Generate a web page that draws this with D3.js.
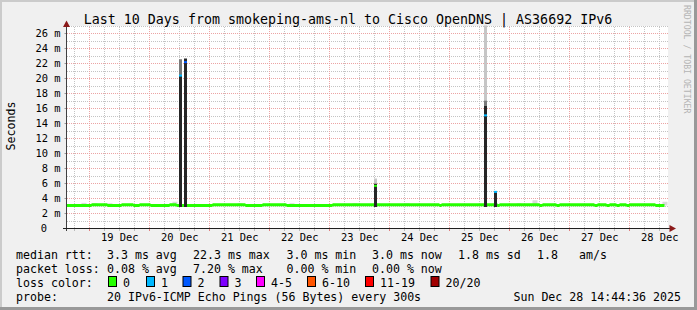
<!DOCTYPE html>
<html>
<head>
<meta charset="utf-8">
<script src="https://cdn.jsdelivr.net/npm/d3@7"></script>
<style>
body { margin: 0; background: #fff; }
svg { display: block; font-family: "DejaVu Sans Mono", monospace; }
.grid line { shape-rendering: crispEdges; }
.grid path { display: none; }
</style>
</head>
<body>
<svg id="myGraph" width="697" height="310"></svg>
<script>
// ---- data ----
var titleText = "Last 10 Days from smokeping-ams-nl to Cisco OpenDNS | AS36692 IPv6";
var endTime = new Date(2025, 11, 28, 14, 44, 36);
var startTime = d3.timeDay.offset(endTime, -10);

var dayLabels = ["19 Dec", "20 Dec", "21 Dec", "22 Dec", "23 Dec", "24 Dec", "25 Dec", "26 Dec", "27 Dec", "28 Dec"];
var yTicks = [0, 2, 4, 6, 8, 10, 12, 14, 16, 18, 20, 22, 24, 26];   // ms
var yTickLabels = ["0", "2 m", "4 m", "6 m", "8 m", "10 m", "12 m", "14 m", "16 m", "18 m", "20 m", "22 m", "24 m", "26 m"];

// median rtt (ms), step changes
var baseTimes = ["2025-12-18 14:44", "2025-12-19 00:56", "2025-12-19 07:20", "2025-12-19 12:56", "2025-12-19 17:44",
  "2025-12-19 20:08", "2025-12-20 00:32", "2025-12-20 08:08", "2025-12-20 10:56", "2025-12-21 01:20",
  "2025-12-21 14:32", "2025-12-21 21:20", "2025-12-22 06:56", "2025-12-23 01:20", "2025-12-24 20:08",
  "2025-12-24 20:56", "2025-12-25 19:20", "2025-12-25 20:08", "2025-12-26 12:08", "2025-12-26 13:20",
  "2025-12-26 18:56", "2025-12-26 20:08", "2025-12-27 10:08", "2025-12-27 11:20", "2025-12-27 14:56",
  "2025-12-27 16:08", "2025-12-27 18:56", "2025-12-27 20:08", "2025-12-27 22:56", "2025-12-28 00:08",
  "2025-12-28 10:32", "2025-12-28 14:08"];
var baseMedian = [3.0, 3.1, 3.0, 3.1, 3.0, 3.1, 3.0, 3.1, 3.0, 3.1, 3.0, 3.1, 3.0, 3.1, 3.0,
  3.1, 3.0, 3.1, 3.0, 3.1, 3.0, 3.1, 3.0, 3.1, 3.0, 3.1, 3.0, 3.1, 3.0, 3.1, 3.0, 3.0];

// light smoke above the median
var smokeTimes = ["2025-12-18 20:56", "2025-12-19 01:20", "2025-12-19 07:20", "2025-12-20 09:20", "2025-12-21 11:20",
  "2025-12-22 08:08", "2025-12-23 09:20", "2025-12-24 06:08", "2025-12-26 02:56", "2025-12-26 09:20", "2025-12-28 13:20"];
var smokeTop = [3.35, 3.3, 3.3, 3.5, 3.3, 3.3, 3.3, 3.3, 3.3, 3.7, 3.5];

// spikes (one hour bins)
var spikeTimes = ["2025-12-20 11:50", "2025-12-20 14:08", "2025-12-23 17:50", "2025-12-25 13:50", "2025-12-25 17:50"];
var spikeMedian = [20.3, 22.1, 5.6, 15.0, 4.8];
var spikeLoss = [1, 2, 0, 1, 1];
var spikeDark = [20.3, 22.6, 5.9, 16.3, 4.9];
var spikeMid = [22.5, 22.6, 5.9, 17.0, 4.9];
var spikeLight = [22.5, 22.6, 6.6, 27, 4.9];

var lossLabels = ["0", "1", "2", "3", "4-5", "6-10", "11-19", "20/20"];
var lossColors = ["#26ff00", "#00b8ff", "#0059ff", "#7e00ff", "#ff00ff", "#ff5500", "#ff0000", "#a10000"];

var rttStats = ["3.3 ms avg", "22.3 ms max", "3.0 ms min", "3.0 ms now", "1.8 ms sd", "1.8", "am/s"];
var lossStats = ["0.08 % avg", "7.20 % max", "0.00 % min", "0.00 % now"];
var probeText = "20 IPv6-ICMP Echo Pings (56 Bytes) every 300s";
var stampText = "Sun Dec 28 14:44:36 2025";

// ---- layout ----
var parseT = d3.timeParse("%Y-%m-%d %H:%M");
var svg = d3.select("#myGraph");
var plotLeft = 66, plotRight = 666, plotTop = 25.5, plotBottom = 228;

var x = d3.scaleTime().domain([startTime, endTime]).range([plotLeft, plotRight]);
var y = d3.scaleLinear().domain([0, 27]).range([plotBottom, plotTop]);

// background + shade border
svg.append("rect").attr("width", 697).attr("height", 310).attr("fill", "#f0f0f0");
svg.append("rect").attr("x", 0).attr("y", 0).attr("width", 697).attr("height", 2).attr("fill", "#cbcbcb");
svg.append("rect").attr("x", 0).attr("y", 0).attr("width", 2).attr("height", 310).attr("fill", "#cbcbcb");
svg.append("rect").attr("x", 694).attr("y", 0).attr("width", 3).attr("height", 310).attr("fill", "#999");
svg.append("rect").attr("x", 0).attr("y", 307).attr("width", 697).attr("height", 3).attr("fill", "#999");

// canvas
svg.append("rect").attr("x", 67).attr("y", 26).attr("width", 601).attr("height", 202).attr("fill", "#fff");

var plotH = plotBottom - plotTop;

// minor grid (6 h, 1 ms)
var minorX = d3.timeHour.every(6).range(startTime, endTime).filter(function(d) { return d.getHours() != 0; });
svg.append("g").attr("class", "grid")
  .attr("transform", "translate(0," + plotBottom + ")")
  .call(d3.axisBottom(x).tickValues(minorX).tickSize(-plotH + 1).tickFormat(""))
  .selectAll("line").attr("stroke", "#c4c4c4").attr("stroke-dasharray", "1,1");

svg.append("g").attr("class", "grid")
  .attr("transform", "translate(" + (plotLeft + 1) + ",0)")
  .call(d3.axisLeft(y).tickValues(d3.range(1, 28, 2)).tickSize(-(plotRight - plotLeft + 1)).tickFormat(""))
  .selectAll("line").attr("stroke", "#c4c4c4").attr("stroke-dasharray", "1,1");

// major grid (day, 2 ms)
svg.append("g").attr("class", "grid")
  .attr("transform", "translate(0," + plotBottom + ")")
  .call(d3.axisBottom(x).tickValues(d3.timeDay.range(startTime, endTime)).tickSize(-plotH + 1).tickFormat(""))
  .selectAll("line").attr("stroke", "#eca4a4").attr("stroke-dasharray", "1,1");

svg.append("g").attr("class", "grid")
  .attr("transform", "translate(" + (plotLeft + 1) + ",0)")
  .call(d3.axisLeft(y).tickValues(yTicks.slice(1)).tickSize(-(plotRight - plotLeft + 1)).tickFormat(""))
  .selectAll("line").attr("stroke", "#eca4a4").attr("stroke-dasharray", "1,1");

var plot = svg.append("g");
var hour = 3600 * 1000;

// smoke
plot.selectAll("rect.smoke")
  .data(smokeTimes)
  .enter().append("rect")
  .attr("class", "smoke")
  .attr("x", function(d) { return x(parseT(d)); })
  .attr("width", function(d) { var t = parseT(d); return x(new Date(+t + 2 * hour)) - x(t); })
  .attr("y", function(d, i) { return y(smokeTop[i]); })
  .attr("height", function(d, i) { return y(3.0) - y(smokeTop[i]); })
  .attr("fill", "#dadada");

// median band
var baseData = baseTimes.map(function(d, i) { return { t: parseT(d), v: baseMedian[i] }; });
var band = d3.area()
  .curve(d3.curveStepAfter)
  .x(function(d) { return x(d.t); })
  .y0(function(d) { return y(d.v - 0.2); })
  .y1(function(d) { return y(d.v + 0.2); });
plot.append("path").datum(baseData).attr("d", band).attr("fill", lossColors[0]);

// spikes
var spikes = plot.selectAll("g.spike")
  .data(spikeTimes)
  .enter().append("g")
  .attr("class", "spike");

function binX(d) { return Math.round(x(parseT(d))); }
var binW = 3;

spikes.append("rect")
  .attr("x", binX).attr("width", binW)
  .attr("y", function(d, i) { return y(spikeLight[i]); })
  .attr("height", function(d, i) { return y(spikeMid[i]) - y(spikeLight[i]); })
  .attr("fill", "#c6c6c6");
spikes.append("rect")
  .attr("x", binX).attr("width", binW)
  .attr("y", function(d, i) { return y(spikeMid[i]); })
  .attr("height", function(d, i) { return y(spikeDark[i]) - y(spikeMid[i]); })
  .attr("fill", "#7a7a7a");
spikes.append("rect")
  .attr("x", binX).attr("width", binW)
  .attr("y", function(d, i) { return y(spikeDark[i]); })
  .attr("height", function(d, i) { return y(2.8) - y(spikeDark[i]); })
  .attr("fill", "#262626");
spikes.append("rect")
  .attr("x", binX).attr("width", binW)
  .attr("y", function(d, i) { return y(spikeMedian[i] + 0.15); })
  .attr("height", 2)
  .attr("fill", function(d, i) { return lossColors[spikeLoss[i]]; });

// axes
var yAxis = svg.append("g")
  .attr("transform", "translate(" + (plotLeft + 0.5) + ",0)")
  .call(d3.axisLeft(y).tickValues(yTicks).tickSize(2).tickPadding(4)
    .tickFormat(function(d, i) { return yTickLabels[i]; }));
yAxis.select(".domain").remove();
yAxis.selectAll("line").attr("stroke", "#999");
yAxis.selectAll("text").attr("font-size", "10.4px").attr("fill", "#000")
  .attr("font-family", "DejaVu Sans Mono")
  .filter(function(d) { return d === 0; }).attr("x", -19.5);

var labelDates = dayLabels.map(function(d, i) { return new Date(2025, 11, 19 + i, 12); });
var xAxis = svg.append("g")
  .attr("transform", "translate(0," + plotBottom + ")")
  .call(d3.axisBottom(x).tickValues(labelDates).tickSize(0).tickPadding(6)
    .tickFormat(function(d, i) { return dayLabels[i]; }));
xAxis.select(".domain").remove();
xAxis.selectAll("text").attr("font-size", "10.4px").attr("fill", "#000").attr("font-family", "DejaVu Sans Mono");

// small ticks on the x axis
svg.append("g").attr("class", "grid")
  .attr("transform", "translate(0," + plotBottom + ")")
  .call(d3.axisBottom(x).tickValues(d3.timeHour.every(6).range(startTime, endTime)).tickSize(3).tickFormat(""))
  .selectAll("line").attr("stroke", function(d) { return d.getHours() == 0 ? "#e08080" : "#bbb"; });

// axis lines with arrows
svg.append("line").attr("x1", 66.5).attr("x2", 66.5).attr("y1", 231).attr("y2", 25)
  .attr("stroke", "#404040").attr("stroke-width", 1);
svg.append("line").attr("x1", 63).attr("x2", 671).attr("y1", 228.5).attr("y2", 228.5)
  .attr("stroke", "#202020").attr("stroke-width", 1);
svg.append("path").attr("d", "M66.5,20.5 L63,27 L70,27 Z").attr("fill", "#8b1a1a");
svg.append("path").attr("d", "M676,228.5 L669.5,225 L669.5,232 Z").attr("fill", "#8b1a1a");

// title and labels
svg.append("text").attr("x", 348).attr("y", 23.5).attr("text-anchor", "middle")
  .attr("font-size", "13.3px").attr("fill", "#000").text(titleText);
svg.append("text").attr("transform", "translate(15,126) rotate(-90)").attr("text-anchor", "middle")
  .attr("font-size", "11.6px").attr("fill", "#000").text("Seconds");
svg.append("text").attr("transform", "translate(684,5) rotate(90)")
  .attr("font-size", "8.2px").attr("fill", "#b4b4b4").text("RRDTOOL / TOBI OETIKER");

// legend
var lg = svg.append("g").attr("font-size", "11.6px").attr("fill", "#000");
function put(xp, yp, s) {
  lg.append("text").attr("x", xp).attr("y", yp).attr("xml:space", "preserve").text(s);
}
var rttX = [107, 193, 286.5, 372, 458, 537, 579];
put(16, 258.5, "median rtt:");
rttStats.forEach(function(s, i) { put(rttX[i], 258.5, s); });
put(16, 272.5, "packet loss:");
lossStats.forEach(function(s, i) { put(rttX[i], 272.5, s); });
put(16, 286.5, "loss color:");
var boxX = [108, 146, 182.5, 219.5, 256, 307, 365, 430.5];
lossLabels.forEach(function(s, i) {
  lg.append("rect").attr("x", boxX[i] + 0.5).attr("y", 276.5).attr("width", 8).attr("height", 10)
    .attr("fill", lossColors[i]).attr("stroke", "#000").attr("stroke-width", 1);
  put(boxX[i] + 15, 286.5, s);
});
put(16, 300.5, "probe:");
put(107, 300.5, probeText);
lg.append("text").attr("x", 681).attr("y", 300.5).attr("text-anchor", "end").text(stampText);
</script>
</body>
</html>
